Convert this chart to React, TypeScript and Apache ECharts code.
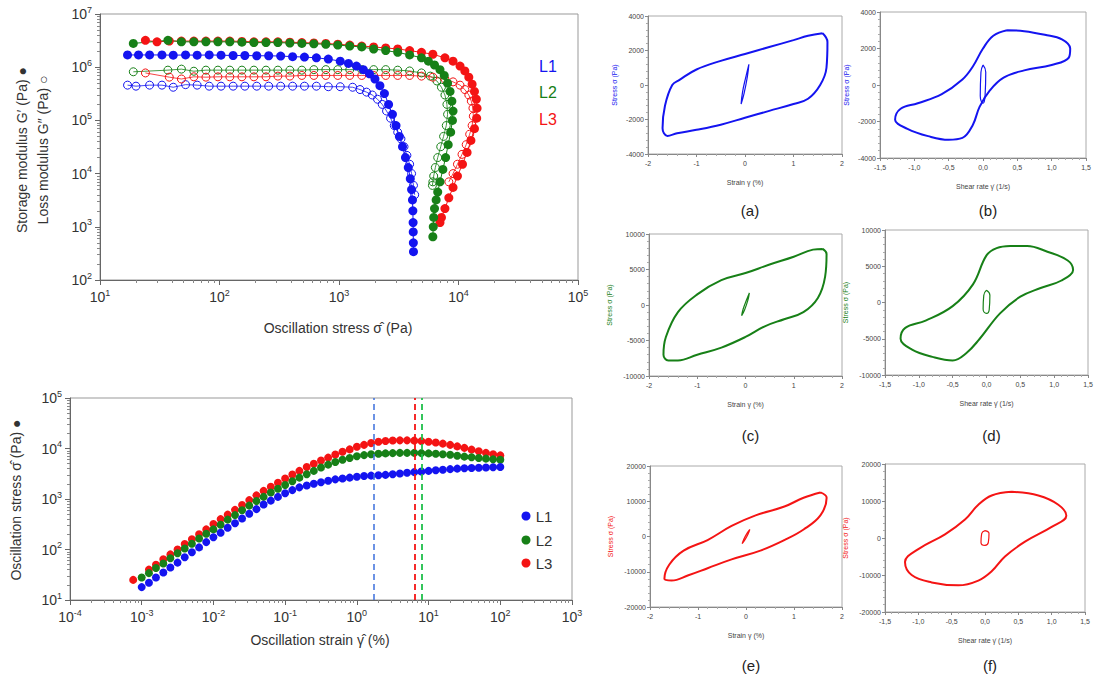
import React, { useEffect, useRef } from 'react';
import * as echarts from 'echarts';

const BLUE = '#1414f0';
const GREEN = '#178017';
const RED = '#f41414';

// amplitude sweep: [stress (Pa), modulus (Pa)]
const l1Gp = [[17,1.7e6],[21,1.7e6],[26,1.7e6],[33,1.7e6],[41,1.68e6],[52,1.7e6],[65,1.68e6],[82,1.7e6],[103,1.68e6],[130,1.66e6],[163,1.66e6],[205,1.64e6],[258,1.64e6],[325,1.62e6],[409,1.58e6],[514,1.55e6],[647,1.5e6],[814,1.42e6],[1024,1.3e6],[1200,1.18e6],[1400,1.05e6],[1600,9e5],[1800,7.5e5],[2000,6e5],[2200,4.5e5],[2400,3.2e5],[2600,2e5],[2800,1.3e5],[3000,8e4],[3200,5e4],[3400,3.2e4],[3600,2e4],[3800,1.3e4],[3950,8e3],[4050,5e3],[4120,3.2e3],[4150,2e3],[4170,1.2e3],[4180,8e2],[4190,5e2],[4200,3.4e2]];
const l1Gpp = [[17,4.6e5],[20,4.4e5],[26,4.6e5],[33,4.6e5],[41,4.2e5],[52,4.7e5],[65,4.6e5],[82,4.4e5],[103,4.4e5],[130,4.4e5],[163,4.4e5],[205,4.4e5],[258,4.4e5],[325,4.4e5],[409,4.4e5],[514,4.4e5],[647,4.4e5],[814,4.3e5],[1024,4.3e5],[1300,4.2e5],[1500,3.8e5],[1700,3.4e5],[1900,3e5],[2100,2.5e5],[2300,2e5],[2500,1.5e5],[2700,1.1e5],[2900,8e4],[3100,6e4],[3300,4.5e4],[3500,3.2e4],[3700,2.2e4],[3900,1.5e4],[4050,1e4],[4200,6e3],[4300,4e3]];
const l2Gp = [[19,2.8e6],[37,3.2e6],[48,3.0e6],[61,3.0e6],[77,3.0e6],[97,3.0e6],[122,3.0e6],[154,2.95e6],[194,2.9e6],[245,2.9e6],[308,2.9e6],[388,2.85e6],[489,2.8e6],[616,2.75e6],[776,2.7e6],[977,2.6e6],[1230,2.5e6],[1550,2.4e6],[1950,2.2e6],[2460,2.05e6],[3100,1.9e6],[3900,1.7e6],[4900,1.5e6],[5600,1.3e6],[6300,1.1e6],[7000,9e5],[7600,7e5],[8100,5e5],[8500,3.5e5],[8800,2.3e5],[9000,1.5e5],[8900,1e5],[8600,6e4],[8200,3.5e4],[7800,2e4],[7400,1.2e4],[7000,7e3],[6700,4.5e3],[6500,3.2e3],[6300,2.2e3],[6200,1.5e3],[6150,1e3],[6100,6.5e2]];
const l2Gpp = [[19,8.2e5],[37,8.8e5],[48,9.2e5],[61,8.4e5],[77,8.8e5],[97,8.8e5],[122,8.8e5],[154,8.8e5],[194,8.8e5],[245,8.8e5],[308,8.8e5],[388,8.8e5],[489,8.8e5],[616,9e5],[776,9e5],[977,9e5],[1230,9e5],[1550,9e5],[1950,9e5],[2460,9e5],[3100,8.8e5],[3900,8.5e5],[4900,7.8e5],[5800,6.8e5],[6600,5.5e5],[7200,4.2e5],[7700,3e5],[8000,2e5],[8100,1.3e5],[7900,8e4],[7500,5e4],[7100,3.2e4],[6700,2e4],[6400,1.3e4],[6200,9e3],[6100,7e3],[6050,6e3]];
const l3Gp = [[24,3.2e6],[30,3.0e6],[38,3.1e6],[48,3.1e6],[61,3.1e6],[77,3.1e6],[97,3.1e6],[122,3.1e6],[154,3.05e6],[194,3.0e6],[245,3.0e6],[308,3.0e6],[388,2.95e6],[489,2.9e6],[616,2.85e6],[776,2.8e6],[977,2.7e6],[1230,2.6e6],[1550,2.5e6],[1950,2.4e6],[2460,2.3e6],[3100,2.2e6],[3900,2.05e6],[4900,1.9e6],[6100,1.75e6],[7700,1.5e6],[9000,1.3e6],[10300,1.05e6],[11300,8.5e5],[12200,6.5e5],[13000,4.8e5],[13600,3.5e5],[14100,2.5e5],[14300,1.7e5],[14200,1.1e5],[13600,7e4],[12700,4.2e4],[11800,2.5e4],[10800,1.5e4],[9800,9e3],[9000,5.5e3],[8300,3.5e3],[7700,2.2e3],[7200,1.5e3],[7000,1.2e3]];
const l3Gpp = [[24,7.8e5],[38,6.5e5],[48,6e5],[61,6.6e5],[77,6.5e5],[97,6.6e5],[122,6.6e5],[154,6.6e5],[194,6.6e5],[245,6.6e5],[308,6.8e5],[388,6.8e5],[489,7e5],[616,7e5],[776,7e5],[977,7e5],[1230,7e5],[1550,7e5],[1950,7e5],[2460,7e5],[3100,7e5],[3900,7e5],[4900,6.8e5],[6100,6.5e5],[7700,6e5],[9000,5.3e5],[10300,4.6e5],[11300,3.8e5],[12200,3e5],[12800,2.3e5],[13200,1.7e5],[13300,1.2e5],[13000,8e4],[12400,5.5e4],[11600,3.5e4],[10700,2.3e4],[9800,1.5e4],[9000,1e4],[8300,7e3]];

// strain sweep
const strain = [0.001,0.00126,0.00158,0.002,0.00251,0.00316,0.00398,0.00501,0.00631,0.00794,
  0.01,0.0126,0.0158,0.02,0.0251,0.0316,0.0398,0.0501,0.0631,0.0794,
  0.1,0.126,0.158,0.2,0.251,0.316,0.398,0.501,0.631,0.794,
  1,1.26,1.58,2,2.51,3.16,3.98,5.01,6.31,7.94,
  10,12.6,15.8,20,25.1,31.6,39.8,50.1,63.1,79.4,100];
const strainL3 = [0.00076, ...strain.slice(1)];
const stressL1 = [18,22,28,35,44,55,70,88,110,140,175,215,270,330,410,510,630,780,930,1100,1300,1500,1700,1850,2000,2150,2300,2450,2550,2650,2750,2850,2900,2950,3000,3100,3200,3300,3400,3500,3600,3700,3800,3900,4000,4050,4100,4150,4200,4250,4300];
const stressL2 = [28,34,43,53,67,84,105,130,165,205,250,310,390,480,600,740,910,1100,1350,1600,1900,2250,2650,3100,3600,4200,4800,5400,6000,6500,7000,7400,7700,7900,8000,8100,8200,8200,8200,8100,8000,7900,7700,7500,7200,6900,6700,6500,6300,6100,6000];
const stressL3 = [25,40,50,64,80,100,128,160,200,250,320,400,490,610,760,950,1180,1450,1750,2100,2550,3050,3600,4300,5000,5800,6600,7600,8600,9600,10800,11800,12800,13600,14100,14400,14500,14500,14300,14000,13600,13100,12500,11800,11000,10300,9500,8800,8200,7700,7300];
const yieldStrain = [1.7, 8, 6.5]; // L1, L2, L3

// Lissajous loops [x, stress]
const loopA = [[1.6,3000],[1.7,2500],[1.68,1000],[1.55,0],[1.3,-800],[1.0,-1100],[0.5,-1500],[0,-1900],[-0.5,-2300],[-1.0,-2600],[-1.4,-2800],[-1.6,-2950],[-1.7,-2500],[-1.65,-1200],[-1.5,0],[-1.35,300],[-1.0,900],[-0.5,1400],[0,1800],[0.5,2200],[1.0,2600],[1.3,2850],[1.6,3000]];
const innerA = [[0.08,1200],[0.05,500],[-0.02,-500],[-0.08,-1100],[-0.05,-400],[0.02,500],[0.08,1200]];
const loopB = [[0.35,3000],[0.6,2950],[0.9,2750],[1.15,2500],[1.27,2000],[1.25,1500],[1.0,1100],[0.6,800],[0.3,400],[0.1,-300],[-0.05,-1200],[-0.15,-2200],[-0.3,-2900],[-0.5,-3000],[-0.8,-2800],[-1.1,-2400],[-1.28,-1900],[-1.2,-1300],[-0.95,-1000],[-0.6,-500],[-0.3,300],[-0.15,1000],[0,2000],[0.15,2700],[0.35,3000]];
const innerB = [[0,1100],[0.04,700],[0.03,-600],[0,-1000],[-0.04,-600],[-0.03,700],[0,1100]];
const loopC = [[1.6,7900],[1.68,7200],[1.65,4000],[1.5,1000],[1.2,-1000],[0.8,-2000],[0.4,-3000],[0,-4500],[-0.5,-6000],[-1.0,-7000],[-1.4,-7800],[-1.6,-7800],[-1.7,-7000],[-1.65,-4500],[-1.4,-1000],[-1.0,1500],[-0.5,3500],[0,4500],[0.5,5700],[1.0,6800],[1.4,7800],[1.6,7900]];
const innerC = [[0.08,1700],[0.05,700],[-0.02,-700],[-0.08,-1500],[-0.05,-600],[0.02,700],[0.08,1700]];
const loopD = [[0.35,7800],[0.6,7800],[0.9,7000],[1.2,5800],[1.28,4500],[1.1,3000],[0.8,2000],[0.5,800],[0.2,-1500],[-0.1,-5000],[-0.3,-7000],[-0.5,-8000],[-0.8,-7500],[-1.1,-6500],[-1.27,-5000],[-1.2,-3500],[-0.9,-2500],[-0.5,-500],[-0.2,2500],[0,6500],[0.15,7500],[0.35,7800]];
const innerD = [[0,1700],[0.05,1000],[0.04,-1000],[0,-1500],[-0.05,-900],[-0.04,1000],[0,1700]];
const loopE = [[1.55,12500],[1.68,11000],[1.55,6000],[1.2,2000],[0.8,-1000],[0.3,-4000],[-0.3,-6500],[-0.8,-9000],[-1.2,-11000],[-1.55,-12500],[-1.7,-12000],[-1.6,-8000],[-1.3,-4000],[-0.8,-1000],[-0.3,3000],[0.2,6000],[0.8,8500],[1.2,11000],[1.55,12500]];
const innerE = [[0.08,2000],[0.05,900],[-0.02,-900],[-0.08,-2000],[-0.05,-900],[0.02,900],[0.08,2000]];
const loopF = [[0.4,12500],[0.8,11500],[1.1,9000],[1.22,6000],[1.0,3000],[0.6,-1000],[0.3,-5000],[0.1,-9000],[-0.1,-11500],[-0.4,-12800],[-0.8,-12000],[-1.1,-10000],[-1.2,-6500],[-1.0,-3000],[-0.6,1000],[-0.3,5000],[-0.1,9000],[0.1,11500],[0.4,12500]];
const innerF = [[0,2000],[0.06,1200],[0.05,-1200],[0,-2000],[-0.06,-1200],[-0.05,1200],[0,2000]];

const FONT = 'Liberation Sans, Arial, sans-serif';

const logLabel = {
  color: '#333',
  fontFamily: FONT,
  formatter: (v: number) => `{b|10}{s|${Math.round(Math.log10(v))}}`,
  rich: {
    b: { fontSize: 14, fontFamily: FONT, color: '#333' },
    s: { fontSize: 9, fontFamily: FONT, color: '#333', padding: [0, 0, 9, 0] },
  },
};

const App: React.FC = () => {
  const ref = useRef<HTMLDivElement>(null);

  useEffect(() => {
    document.body.style.margin = '0';
    if (!ref.current) return;
    const chart = echarts.init(ref.current, null, { renderer: 'svg' });

    const panels = [
      { l: 648, t: 16, w: 194, h: 138, xr: 2, xi: 1, yr: 4000, yi: 2000, c: BLUE, rate: false, loop: loopA, inner: innerA, tag: '(a)', tagY: 210 },
      { l: 880, t: 12, w: 206, h: 146, xr: 1.5, xi: 0.5, yr: 4000, yi: 2000, c: BLUE, rate: true, loop: loopB, inner: innerB, tag: '(b)', tagY: 210 },
      { l: 649, t: 234, w: 193, h: 142, xr: 2, xi: 1, yr: 10000, yi: 5000, c: GREEN, rate: false, loop: loopC, inner: innerC, tag: '(c)', tagY: 435 },
      { l: 885, t: 230, w: 203, h: 145, xr: 1.5, xi: 0.5, yr: 10000, yi: 5000, c: GREEN, rate: true, loop: loopD, inner: innerD, tag: '(d)', tagY: 435 },
      { l: 650, t: 466, w: 192, h: 141, xr: 2, xi: 1, yr: 20000, yi: 10000, c: RED, rate: false, loop: loopE, inner: innerE, tag: '(e)', tagY: 665 },
      { l: 885, t: 464, w: 200, h: 148, xr: 1.5, xi: 0.5, yr: 20000, yi: 10000, c: RED, rate: true, loop: loopF, inner: innerF, tag: '(f)', tagY: 665 },
    ];

    const grid: any[] = [
      { left: 100, top: 14, width: 478, height: 266, show: true, borderColor: '#999', borderWidth: 1 },
      { left: 70, top: 398, width: 502, height: 202, show: true, borderColor: '#999', borderWidth: 1 },
      ...panels.map(p => ({ left: p.l, top: p.t, width: p.w, height: p.h, show: true, borderColor: '#aaa', borderWidth: 1 })),
    ];

    const logAxisBase = {
      type: 'log', logBase: 10,
      axisLine: { lineStyle: { color: '#666' } },
      axisTick: { lineStyle: { color: '#666' }, length: 5 },
      minorTick: { show: true, splitNumber: 9, length: 3, lineStyle: { color: '#888' } },
      splitLine: { show: false },
      axisLabel: logLabel,
    };

    const xAxis: any[] = [
      { ...logAxisBase, gridIndex: 0, min: 10, max: 1e5, axisLabel: { ...logLabel, margin: 8 } },
      { ...logAxisBase, gridIndex: 1, min: 1e-4, max: 1e3, axisLabel: { ...logLabel, margin: 8 } },
      ...panels.map((p, i) => ({
        type: 'value', gridIndex: i + 2, min: -p.xr, max: p.xr, interval: p.xi,
        name: p.rate ? 'Shear rate γ̇ (1/s)' : 'Strain γ (%)',
        nameLocation: 'middle', nameGap: 25,
        nameTextStyle: { fontSize: 7, color: '#444', fontFamily: FONT },
        axisLine: { onZero: false, lineStyle: { color: '#888' } },
        axisTick: { length: 3, lineStyle: { color: '#888' } },
        minorTick: { show: true, splitNumber: 5, length: 2, lineStyle: { color: '#aaa' } },
        splitLine: { show: false },
        axisLabel: {
          fontSize: 7, color: '#444', margin: 6, fontFamily: FONT,
          formatter: (v: number) => p.rate ? v.toFixed(1).replace('.', ',') : String(v),
        },
      })),
    ];

    const yAxis: any[] = [
      { ...logAxisBase, gridIndex: 0, min: 100, max: 1e7 },
      { ...logAxisBase, gridIndex: 1, min: 10, max: 1e5 },
      ...panels.map((p, i) => ({
        type: 'value', gridIndex: i + 2, min: -p.yr, max: p.yr, interval: p.yi,
        name: 'Stress σ (Pa)', nameLocation: 'middle', nameRotate: 90, nameGap: p.yr >= 10000 ? 36 : 30,
        nameTextStyle: { fontSize: 7, color: p.c, fontFamily: FONT },
        axisLine: { onZero: false, lineStyle: { color: '#888' } },
        axisTick: { length: 3, lineStyle: { color: '#888' } },
        minorTick: { show: true, splitNumber: 5, length: 2, lineStyle: { color: '#aaa' } },
        splitLine: { show: false },
        axisLabel: { fontSize: 7, color: '#444', margin: 4, fontFamily: FONT, formatter: (v: number) => String(v) },
      })),
    ];

    const filled = (data: number[][], color: string, size: number, xi: number, withLine = true) => ({
      type: 'line', xAxisIndex: xi, yAxisIndex: xi, data,
      symbol: 'circle', symbolSize: size,
      itemStyle: { color },
      lineStyle: { color, width: withLine ? 1 : 0, opacity: withLine ? 1 : 0 },
    });
    const hollow = (data: number[][], color: string) => ({
      type: 'line', xAxisIndex: 0, yAxisIndex: 0, data,
      symbol: 'circle', symbolSize: 8,
      itemStyle: { color: 'rgba(255,255,255,0)', borderColor: color, borderWidth: 1 },
      lineStyle: { color, width: 0.8 },
    });

    const zip = (xs: number[], ys: number[]) => xs.map((x, i) => [x, ys[i]]);

    const series: any[] = [
      hollow(l1Gpp, BLUE), hollow(l2Gpp, GREEN), hollow(l3Gpp, RED),
      filled(l3Gp, RED, 9, 0), filled(l2Gp, GREEN, 9, 0), filled(l1Gp, BLUE, 9, 0),
      filled(zip(strainL3, stressL3), RED, 8, 1, false),
      filled(zip(strain, stressL2), GREEN, 8, 1, false),
      {
        ...filled(zip(strain, stressL1), BLUE, 8, 1, false),
        markLine: {
          silent: true, symbol: 'none', label: { show: false },
          data: [
            { xAxis: yieldStrain[0], lineStyle: { color: '#3d6fdc', type: [6, 4], width: 1.5 } },
            { xAxis: yieldStrain[1], lineStyle: { color: '#1fbf4a', type: [6, 4], width: 1.8 } },
            { xAxis: yieldStrain[2], lineStyle: { color: '#f41414', type: [6, 4], width: 1.8 } },
          ],
        },
      },
      ...panels.flatMap((p, i) => [
        { type: 'line', xAxisIndex: i + 2, yAxisIndex: i + 2, data: p.loop, smooth: 0.4, symbol: 'none', lineStyle: { color: p.c, width: 2 } },
        { type: 'line', xAxisIndex: i + 2, yAxisIndex: i + 2, data: p.inner, smooth: 0.5, symbol: 'none', lineStyle: { color: p.c, width: 1.2 } },
      ]),
    ];

    const txt = (x: number, y: number, text: string, extra: any = {}) => ({
      type: 'text', x, y,
      style: { text, fontFamily: FONT, fontSize: 14, fill: '#333', textAlign: 'center', textVerticalAlign: 'middle', ...extra },
    });

    const graphic: any[] = [
      txt(338, 328, 'Oscillation stress σ̂ (Pa)'),
      txt(320, 640, 'Oscillation strain γ̂ (%)'),
      { ...txt(0, 0, 'Storage modulus G′ (Pa) ●'), x: 22, y: 150, rotation: Math.PI / 2 },
      { ...txt(0, 0, 'Loss modulus G″ (Pa) ○'), x: 43, y: 150, rotation: Math.PI / 2 },
      { ...txt(0, 0, 'Oscillation stress σ̂ (Pa) ●'), x: 16, y: 500, rotation: Math.PI / 2 },
      txt(548, 66, 'L1', { fill: BLUE, fontSize: 16 }),
      txt(548, 92, 'L2', { fill: GREEN, fontSize: 16 }),
      txt(548, 119, 'L3', { fill: RED, fontSize: 16 }),
      ...[['L1', BLUE, 516], ['L2', GREEN, 540], ['L3', RED, 563]].flatMap(([n, c, y]) => [
        { type: 'circle', shape: { cx: 526, cy: y as number, r: 4.5 }, style: { fill: c as string } },
        txt(544, y as number, n as string, { fontSize: 15 }),
      ]),
      ...panels.map(p => txt(p.l + p.w / 2 + 5, p.tagY, p.tag, { fontSize: 15, fill: '#222' })),
    ];

    chart.setOption({
      animation: false,
      backgroundColor: '#fff',
      textStyle: { fontFamily: FONT },
      grid, xAxis, yAxis, series, graphic,
    });

    return () => chart.dispose();
  }, []);

  return <div ref={ref} style={{ width: 1101, height: 684 }} />;
};

export default App;
